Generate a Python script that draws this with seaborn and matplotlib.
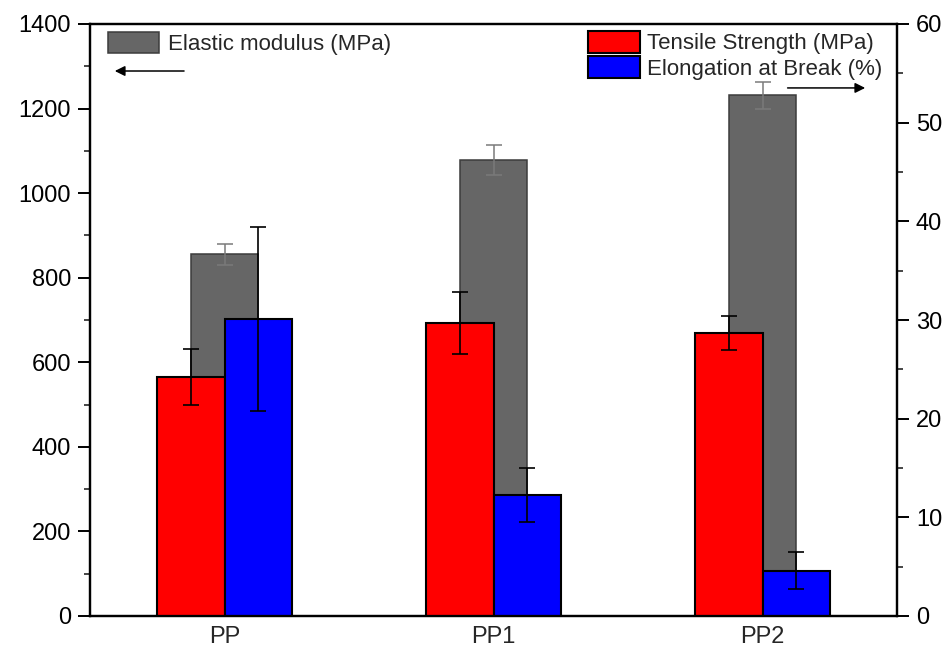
import matplotlib
matplotlib.use("Agg")
import matplotlib.pyplot as plt
import seaborn as sns
import pandas as pd
from matplotlib.ticker import MultipleLocator

# Sample names
samples = ["PP", "PP1", "PP2"]

# Elastic modulus (MPa), left axis
modulus = [855, 1078, 1232]
modulus_err = [25, 35, 32]

# Tensile strength (MPa), right axis
tensile = [24.2, 29.7, 28.7]
tensile_err = [2.85, 3.1, 1.7]

# Elongation at break (%), right axis
elongation = [30.1, 12.3, 4.6]
elongation_err = [9.3, 2.75, 1.85]

sns.set_theme(style="ticks")
plt.rcParams["font.family"] = ["Liberation Sans", "DejaVu Sans"]

fig = plt.figure(figsize=(9.52, 6.53), dpi=100)
ax = fig.add_axes([90 / 952, 1 - 616 / 653, 807 / 952, 592 / 653])
ax2 = ax.twinx()

# Left axis: elastic modulus bars
df_mod = pd.DataFrame({"sample": samples, "value": modulus})
sns.barplot(data=df_mod, x="sample", y="value", ax=ax, width=0.25,
            color="#666666", saturation=1, edgecolor="#3c3c3c", linewidth=1.1,
            errorbar=None, label="Elastic modulus (MPa)")
mod_x = [p.get_x() + p.get_width() / 2 for p in ax.patches]
ax.errorbar(mod_x, modulus, yerr=modulus_err, fmt="none", ecolor="#7a7a7a",
            elinewidth=1.1, capsize=6, capthick=1.1, zorder=3)

# Right axis: tensile strength and elongation, dodged
df_r = pd.DataFrame({
    "sample": samples * 2,
    "value": tensile + elongation,
    "prop": ["Tensile Strength (MPa)"] * 3 + ["Elongation at Break (%)"] * 3,
})
sns.barplot(data=df_r, x="sample", y="value", hue="prop", ax=ax2, width=0.5,
            palette=["#ff0000", "#0000ff"], saturation=1, edgecolor="black",
            linewidth=1.5, errorbar=None)
bars = [p for p in ax2.patches if p.get_height() > 0]
r_x = [p.get_x() + p.get_width() / 2 for p in bars]
ax2.errorbar(r_x, tensile + elongation, yerr=tensile_err + elongation_err,
             fmt="none", ecolor="black", elinewidth=1.2, capsize=6,
             capthick=1.2, zorder=3)

# Axis limits and ticks
ax.set_xlim(-0.5, 2.5)
ax.set_ylim(0, 1400)
ax2.set_ylim(0, 60)
ax.yaxis.set_major_locator(MultipleLocator(200))
ax.yaxis.set_minor_locator(MultipleLocator(100))
ax2.yaxis.set_major_locator(MultipleLocator(10))
ax2.yaxis.set_minor_locator(MultipleLocator(5))
ax.set_xlabel("")
ax.set_ylabel("")
ax2.set_ylabel("")

for a in (ax, ax2):
    for s in a.spines.values():
        s.set_linewidth(1.6)
        s.set_color("black")
    a.tick_params(axis="y", which="major", length=8.5, width=1.4,
                  labelsize=17, pad=5, colors="black")
    a.tick_params(axis="y", which="minor", length=4.5, width=1.2)
ax.tick_params(axis="x", length=0, labelsize=17, pad=7)

# Legends
leg1 = ax.legend(loc="upper left", bbox_to_anchor=(0.0223, 0.9865),
                 frameon=False, borderpad=0, borderaxespad=0, fontsize=16,
                 handlelength=2.3, handleheight=1.1, handletextpad=0.4)
leg2 = ax2.legend(loc="upper left", bbox_to_anchor=(0.617, 0.988),
                  frameon=False, borderpad=0, borderaxespad=0, fontsize=16,
                  handlelength=2.35, handleheight=1.12, handletextpad=0.3,
                  labelspacing=0.08)

# Arrows pointing to the corresponding axis
ax.annotate("", xy=(0.0273, 0.9206), xytext=(0.120, 0.9206),
            xycoords="axes fraction",
            arrowprops=dict(arrowstyle="-|>", color="black", lw=1.1,
                            mutation_scale=15))
ax2.annotate("", xy=(0.964, 0.892), xytext=(0.861, 0.892),
             xycoords="axes fraction",
             arrowprops=dict(arrowstyle="-|>", color="black", lw=1.1,
                             mutation_scale=15))

fig.savefig("out.png", dpi=100, facecolor="white")
